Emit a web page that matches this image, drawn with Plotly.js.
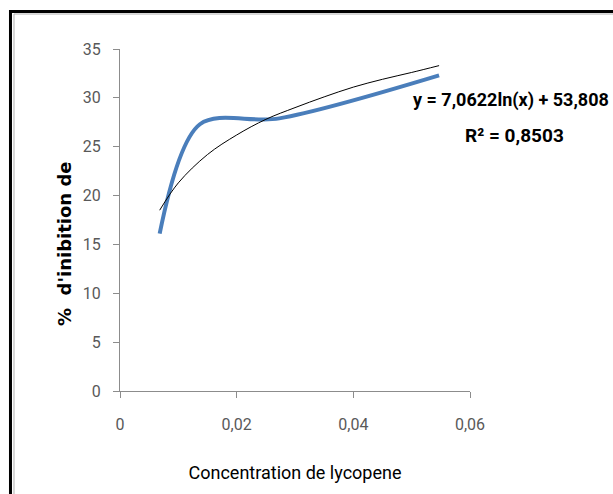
<!DOCTYPE html>
<html>
<head>
<meta charset="utf-8">
<script src="https://cdn.plot.ly/plotly-3.0.1.min.js"></script>
<style>
html,body{margin:0;padding:0;background:#fff;overflow:hidden;}
#chart{width:613px;height:494px;}
</style>
</head>
<body>
<div id="chart"></div>
<script>
// Data
const concentration = [0.0068, 0.0137, 0.0273, 0.0547];
const inhibition = [16.1, 27.3, 27.9, 32.3];
// Logarithmic trendline
const trendX = [0.0068, 0.010, 0.015, 0.020, 0.025, 0.030, 0.035, 0.040, 0.045, 0.050, 0.0547];
const trendY = [18.5, 21.3, 24.2, 26.2, 27.8, 29.0, 30.1, 31.1, 31.9, 32.6, 33.3];
const xTickVals = [0, 0.02, 0.04, 0.06];
const xTickText = ["0", "0,02", "0,04", "0,06"];
const yTickVals = [0, 5, 10, 15, 20, 25, 30, 35];
const yTickText = ["0", "5", "10", "15", "20", "25", "30", "35"];
const equationText = "y = 7,0622ln(x) + 53,808";
const r2Text = "R² = 0,8503";
const xTitle = "Concentration de lycopene";
const yTitle = "%  d'inibition de";

const narrow = "Roboto, Lato, sans-serif";

const traces = [
  {
    x: concentration, y: inhibition, type: 'scatter', mode: 'lines',
    line: {color: '#4A7EBB', width: 4, shape: 'spline', smoothing: 0.9},
    hoverinfo: 'skip', showlegend: false
  },
  {
    x: trendX, y: trendY, type: 'scatter', mode: 'lines',
    line: {color: '#000000', width: 1, shape: 'spline'},
    hoverinfo: 'skip', showlegend: false
  }
];

const layout = {
  width: 613, height: 494,
  margin: {l: 120, r: 143, t: 49, b: 103},
  paper_bgcolor: '#ffffff', plot_bgcolor: '#ffffff',
  showlegend: false,
  xaxis: {
    range: [0, 0.06], tickvals: xTickVals, ticktext: xTickText,
    showgrid: false, zeroline: false, showline: true, linecolor: '#8c8c8c', linewidth: 1,
    ticks: 'outside', ticklen: 6, tickcolor: '#8c8c8c', tickwidth: 1,
    ticklabelstandoff: 13,
    tickfont: {family: narrow, size: 16, color: '#595959'},
    title: {text: xTitle, standoff: 33, font: {family: narrow, size: 18, color: '#000000'}},
    fixedrange: true
  },
  yaxis: {
    range: [0, 35], tickvals: yTickVals, ticktext: yTickText,
    showgrid: false, zeroline: false, showline: true, linecolor: '#8c8c8c', linewidth: 1,
    ticks: 'outside', ticklen: 6, tickcolor: '#8c8c8c', tickwidth: 1,
    ticklabelstandoff: 9,
    tickfont: {family: narrow, size: 16, color: '#595959'},
    fixedrange: true
  },
  annotations: [
    {xref: 'paper', yref: 'paper', x: -0.157, y: 0.43, xanchor: 'center', yanchor: 'middle',
     textangle: -90, text: yTitle, showarrow: false,
     font: {family: 'DejaVu Sans, Verdana, sans-serif', size: 18, color: '#000000', weight: 'bold'}},
    {xref: 'paper', yref: 'paper', x: 0.83, y: 0.851, xanchor: 'left', yanchor: 'middle',
     text: equationText, showarrow: false,
     font: {family: narrow, size: 18, color: '#000000', weight: 'bold'}},
    {xref: 'paper', yref: 'paper', x: 1.126, y: 0.746, xanchor: 'center', yanchor: 'middle',
     text: r2Text, showarrow: false,
     font: {family: narrow, size: 19, color: '#000000', weight: 'bold'}}
  ],
  shapes: [
    {type: 'rect', xref: 'paper', yref: 'paper', x0: -0.3129, x1: 2.5, y0: -1, y1: 1.1096,
     line: {color: '#000000', width: 3}, fillcolor: 'rgba(0,0,0,0)', layer: 'below'},
    {type: 'rect', xref: 'paper', yref: 'paper', x0: -0.3029, x1: 2.5, y0: -1, y1: 1.1023,
     line: {color: '#b0b0b0', width: 1}, fillcolor: 'rgba(0,0,0,0)', layer: 'below'}
  ]
};

Plotly.newPlot('chart', traces, layout, {displayModeBar: false, staticPlot: true});
</script>
</body>
</html>
